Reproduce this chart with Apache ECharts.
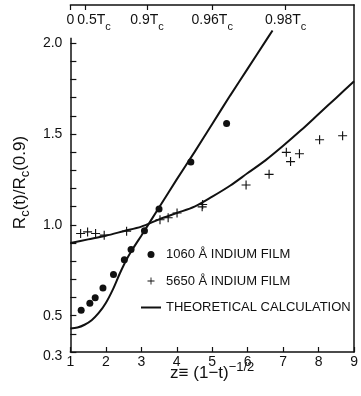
<!DOCTYPE html>
<html>
<head>
<meta charset="utf-8">
<script src="https://cdn.jsdelivr.net/npm/echarts@6/dist/echarts.min.js"></script>
<style>
  html, body { margin: 0; padding: 0; background: #fff; }
  #chart { width: 361px; height: 396px; }
</style>
</head>
<body>
<div id="chart"></div>
<script>
// 1060 Å film (filled dots)
var thinZ = [1.305, 1.549, 1.70, 1.919, 2.216, 2.522, 2.711, 3.089, 3.50, 4.397, 5.405];
var thinR = [0.530, 0.569, 0.598, 0.652, 0.727, 0.808, 0.864, 0.967, 1.087, 1.346, 1.558];

// 5650 Å film (crosses)
var thickZ = [1.289, 1.486, 1.711, 1.954, 2.586, 3.527, 3.757, 4.008, 4.73, 4.716, 5.954, 6.603, 7.089, 7.208, 7.459, 8.027, 8.676];
var thickR = [0.952, 0.961, 0.952, 0.943, 0.965, 1.028, 1.039, 1.065, 1.112, 1.099, 1.219, 1.278, 1.399, 1.348, 1.391, 1.468, 1.490];

// theoretical curves
var theoryAz = [1, 1.2, 1.4, 1.6, 1.8, 2.0, 2.2, 2.4, 2.6, 2.8, 3.0, 3.5, 4.0, 4.5, 5.0, 5.5, 6.0, 6.5, 6.7];
var theoryAr = [0.43, 0.435, 0.45, 0.475, 0.515, 0.57, 0.645, 0.735, 0.815, 0.88, 0.94, 1.095, 1.25, 1.40, 1.555, 1.71, 1.86, 2.01, 2.07];
var theoryBz = [1, 1.5, 2, 2.5, 3, 3.5, 4, 4.5, 5, 5.5, 6, 6.5, 7, 7.5, 8, 8.5, 9];
var theoryBr = [0.90, 0.92, 0.94, 0.965, 0.99, 1.03, 1.065, 1.10, 1.155, 1.215, 1.285, 1.355, 1.435, 1.52, 1.61, 1.70, 1.79];

// axes
var yTicks = [0.3, 0.4, 0.5, 0.6, 0.7, 0.8, 0.9, 1.0, 1.1, 1.2, 1.3, 1.4, 1.5, 1.6, 1.7, 1.8, 1.9, 2.0];
var yLabels = [0.3, 0.5, 1.0, 1.5, 2.0];
var topT = [0, 0.5, 0.9, 0.96, 0.98];
var topLabels = ['0', '{g|}0.5T{s|c}', '0.9T{s|c}', '0.96T{s|c}', '0.98T{s|c}'];

var names = ['1060 Å INDIUM FILM', '5650 Å INDIUM FILM', 'THEORETICAL CALCULATION'];

function pairs(a, b) {
  var out = [];
  for (var i = 0; i < a.length; i++) out.push([a[i], b[i]]);
  return out;
}

// z = (1 - t)^-1/2 for the top temperature scale
var topZ = topT.map(function (t) { return 1 / Math.sqrt(1 - t); });

function topLabel(v) {
  for (var i = 0; i < topZ.length; i++) {
    if (Math.abs(topZ[i] - v) < 1e-6) return topLabels[i];
  }
  return '';
}

var ink = '#111';
var font = 'Liberation Sans, Arial, sans-serif';
var crossPath = 'path://M7,0H9V16H7Z M0,7H16V9H0Z';
var linePath = 'path://M0,0H20V2H0Z';
var topRich = {
  g: { width: 18 },
  s: { fontSize: 11, verticalAlign: 'bottom', lineHeight: 24 }
};

var chart = echarts.init(document.getElementById('chart'));

var option = {
  backgroundColor: '#fff',
  animation: false,
  textStyle: { fontFamily: font, color: ink },
  grid: { left: 62, right: 3, top: 5, bottom: 44, containLabel: false },
  legend: {
    orient: 'vertical',
    left: 136,
    top: 243,
    itemWidth: 20,
    itemHeight: 7,
    itemGap: 13.5,
    textStyle: { fontFamily: font, fontSize: 13, color: ink },
    data: [
      { name: names[0], icon: 'circle' },
      { name: names[1], icon: crossPath },
      { name: names[2], icon: linePath }
    ]
  },
  xAxis: [{
    type: 'value',
    position: 'bottom',
    min: 1,
    max: 9,
    interval: 1,
    splitLine: { show: false },
    axisLine: { lineStyle: { color: ink, width: 1.5 } },
    axisTick: { inside: true, length: 5, lineStyle: { color: ink, width: 1.2 } },
    axisLabel: { fontSize: 14, color: ink, margin: 3 },
    name: 'z≡ (1−t){sup|−1/2}',
    nameLocation: 'middle',
    nameGap: 9,
    nameMoveOverlap: false,
    nameTextStyle: {
      fontSize: 17, color: ink, verticalAlign: 'top', lineHeight: 24,
      rich: { sup: { fontSize: 13, verticalAlign: 'top', lineHeight: 24 } }
    }
  }, {
    // temperature scale, 0.5Tc .. 0.98Tc
    type: 'value',
    position: 'top',
    min: 1,
    max: 9,
    splitLine: { show: false },
    axisLine: { lineStyle: { color: ink, width: 1.5 } },
    axisTick: { inside: true, length: 5, customValues: topZ, lineStyle: { color: ink, width: 1.2 } },
    axisLabel: {
      inside: true,
      margin: 3,
      fontSize: 14,
      color: ink,
      showMinLabel: true,
      hideOverlap: false,
      customValues: topZ.slice(1),
      formatter: topLabel,
      rich: topRich
    }
  }, {
    // the lone "0" of the temperature scale
    type: 'value',
    position: 'top',
    min: 1,
    max: 9,
    splitLine: { show: false },
    axisLine: { show: false },
    axisTick: { show: false },
    axisLabel: {
      inside: true,
      margin: 3,
      fontSize: 14,
      lineHeight: 24,
      color: ink,
      showMinLabel: true,
      customValues: topZ.slice(0, 1),
      formatter: topLabel
    }
  }],
  yAxis: [{
    type: 'value',
    position: 'left',
    min: 0.3,
    max: 2.21,
    splitLine: { show: false },
    axisLine: { show: false },
    axisTick: { inside: true, length: 6, customValues: yTicks, lineStyle: { color: ink, width: 1.2 } },
    axisLabel: {
      fontSize: 14, color: ink, margin: 8,
      customValues: yLabels,
      formatter: function (v) {
        var s = v.toFixed(1);
        return v < 0.35 ? '{lo|' + s + '}' : s;
      },
      rich: { lo: { fontSize: 14, padding: [8, 0, 0, 0] } }
    },
    name: 'R{s|c}(t)/R{s|c}(0.9)',
    nameLocation: 'middle',
    nameRotate: 90,
    nameGap: 38,
    nameTextStyle: {
      fontSize: 17, color: ink, lineHeight: 24, padding: [0, 8, 0, 0],
      rich: { s: { fontSize: 13, verticalAlign: 'bottom', lineHeight: 24 } }
    }
  }, {
    type: 'value',
    position: 'right',
    min: 0.3,
    max: 2.21,
    splitLine: { show: false },
    axisLine: { show: true, lineStyle: { color: ink, width: 1.5 } },
    axisTick: { show: false },
    axisLabel: { show: false }
  }],
  series: [
    {
      name: names[2],
      type: 'line',
      data: pairs(theoryAz, theoryAr),
      symbol: 'none',
      smooth: 0.3,
      lineStyle: { color: ink, width: 2 },
      itemStyle: { color: ink }
    },
    {
      name: names[2],
      type: 'line',
      data: pairs(theoryBz, theoryBr),
      symbol: 'none',
      smooth: 0.3,
      lineStyle: { color: ink, width: 2 },
      itemStyle: { color: ink }
    },
    {
      name: names[0],
      type: 'scatter',
      data: pairs(thinZ, thinR),
      symbol: 'circle',
      symbolSize: 7,
      itemStyle: { color: ink, opacity: 1 },
      // left frame line, open above 2.0 like the original
      markLine: {
        silent: true,
        symbol: 'none',
        label: { show: false },
        lineStyle: { color: ink, width: 1.5, type: 'solid' },
        data: [[{ coord: [1, 0.3] }, { coord: [1, 2.03] }]]
      }
    },
    {
      name: names[1],
      type: 'scatter',
      data: pairs(thickZ, thickR),
      symbol: crossPath,
      symbolSize: 9,
      itemStyle: { color: ink, opacity: 1 }
    }
  ]
};

chart.setOption(option);
</script>
</body>
</html>
